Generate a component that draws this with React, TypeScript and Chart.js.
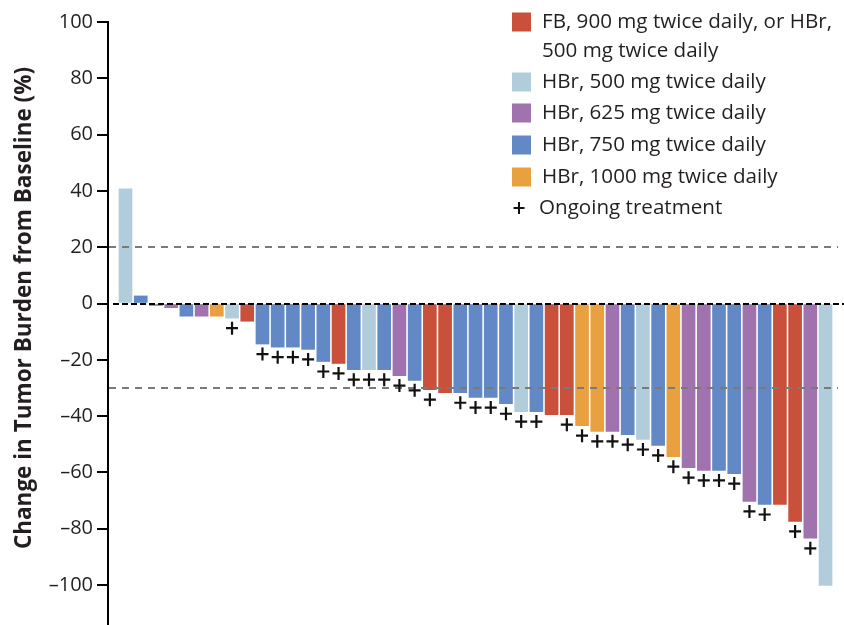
import { useEffect, useRef } from "react";
import { Chart, registerables } from "chart.js";

Chart.register(...registerables);

// Change in tumor burden from baseline (%) per patient, sorted
const values = [
  40.7, 2.7, -0.7, -1.5, -4.5, -4.5, -4.5, -5.2, -6.3, -14.4, -15.5, -15.5, -16.3, -20.6, -21.3, -23.5,
  -23.5, -23.5, -25.6, -27.3, -30.6, -31.7, -31.7, -33.4, -33.4, -35.6, -38.4, -38.4, -39.5, -39.5,
  -43.4, -45.4, -45.4, -46.6, -48.3, -50.4, -54.4, -58.3, -59.3, -59.3, -60.4, -70.3, -71.4, -71.4,
  -77.4, -83.4, -100.1,
];

// dose group index per patient (see groupNames)
const groups = [
  1, 3, 2, 2, 3, 2, 4, 1, 0, 3, 3, 3, 3, 3, 0, 3, 1, 3, 2, 3, 0, 0, 3, 3, 3, 3, 1, 3, 0, 0, 4, 4, 2, 3,
  1, 3, 4, 2, 2, 3, 3, 2, 3, 0, 0, 2, 1,
];

// ongoing treatment flag per patient
const ongoing = [
  0, 0, 0, 0, 0, 0, 0, 1, 0, 1, 1, 1, 1, 1, 1, 1, 1, 1, 1, 1, 1, 0, 1, 1, 1, 1, 1, 1, 0, 1, 1, 1, 1, 1,
  1, 1, 1, 1, 1, 1, 1, 1, 1, 0, 1, 1, 0,
];

const groupNames = [
  ["FB, 900 mg twice daily, or HBr,", "500 mg twice daily"],
  ["HBr, 500 mg twice daily"],
  ["HBr, 625 mg twice daily"],
  ["HBr, 750 mg twice daily"],
  ["HBr, 1000 mg twice daily"],
];
const groupColors = ["#C9503B", "#B1CDDB", "#A072AE", "#6289C5", "#E9A03E"];
const ongoingLabel = "Ongoing treatment";

const yTicks = [100, 80, 60, 40, 20, 0, -20, -40, -60, -80, -100];
const refLines = [20, -30];
const yTitle = "Change in Tumor Burden from Baseline (%)";

const FONT = "'Open Sans', 'DejaVu Sans', sans-serif";
const TEXT = "#231f20";

const overlayPlugin = {
  id: "overlay",
  afterDatasetsDraw(chart: any) {
    const { ctx, chartArea } = chart;
    const y = chart.scales.y;
    ctx.save();
    // grey reference lines
    ctx.strokeStyle = "#7a7a7a";
    ctx.lineWidth = 2;
    ctx.setLineDash([7, 6]);
    refLines.forEach((v) => {
      const py = Math.round(y.getPixelForValue(v));
      ctx.beginPath();
      ctx.moveTo(chartArea.left + 1, py);
      ctx.lineTo(chartArea.right - 2, py);
      ctx.stroke();
    });
    // zero line
    ctx.strokeStyle = "#000";
    ctx.setLineDash([6, 3]);
    const pz = Math.round(y.getPixelForValue(0));
    ctx.beginPath();
    ctx.moveTo(chartArea.left + 5, pz);
    ctx.lineTo(chart.width, pz);
    ctx.stroke();
    ctx.setLineDash([]);
    // ongoing markers
    const meta = chart.getDatasetMeta(0);
    ctx.strokeStyle = "#111";
    ctx.lineWidth = 2.2;
    meta.data.forEach((bar: any, i: number) => {
      if (!ongoing[i]) return;
      const cx = bar.x;
      const cy = bar.y + 10;
      ctx.beginPath();
      ctx.moveTo(cx - 6, cy);
      ctx.lineTo(cx + 6, cy);
      ctx.moveTo(cx, cy - 6.5);
      ctx.lineTo(cx, cy + 6.5);
      ctx.stroke();
    });
    ctx.restore();
  },
  afterDraw(chart: any) {
    const { ctx } = chart;
    ctx.save();
    // y title
    ctx.translate(25, 308);
    ctx.rotate(-Math.PI / 2);
    ctx.font = `bold 22.5px ${FONT}`;
    ctx.fillStyle = TEXT;
    ctx.textAlign = "center";
    ctx.textBaseline = "middle";
    ctx.fillText(yTitle, 0, 0);
    ctx.restore();

    // legend
    ctx.save();
    ctx.font = `20.6px ${FONT}`;
    ctx.textAlign = "left";
    ctx.textBaseline = "middle";
    const rowCenters = [22, 82, 113, 145, 177];
    groupNames.forEach((lines, g) => {
      const cy = rowCenters[g];
      ctx.fillStyle = groupColors[g];
      ctx.fillRect(512, cy - 9.5, 19, 19);
      ctx.fillStyle = TEXT;
      lines.forEach((t, k) => ctx.fillText(t, 542, cy + k * 29));
    });
    ctx.strokeStyle = "#111";
    ctx.lineWidth = 2;
    ctx.beginPath();
    ctx.moveTo(513.5, 208);
    ctx.lineTo(524.5, 208);
    ctx.moveTo(519, 202);
    ctx.lineTo(519, 214);
    ctx.stroke();
    ctx.fillStyle = TEXT;
    ctx.fillText(ongoingLabel, 539, 208);
    ctx.restore();
  },
};

export default function App() {
  const ref = useRef<HTMLCanvasElement>(null);
  useEffect(() => {
    if (!ref.current) return;
    const chart = new Chart(ref.current, {
      type: "bar",
      data: {
        datasets: [
          {
            data: values.map((v, i) => ({ x: i, y: v })),
            backgroundColor: groups.map((g) => groupColors[g]),
            barThickness: 13,
            borderWidth: 0,
          },
        ],
      },
      options: {
        animation: false,
        responsive: false,
        devicePixelRatio: 1,
        layout: { padding: { top: 22, right: 4, bottom: 0, left: 0 } },
        plugins: { legend: { display: false }, tooltip: { enabled: false } },
        scales: {
          x: { type: "linear", min: -1.15, max: 46.95, display: false, offset: false, grid: { offset: false } },
          y: {
            min: -114.2,
            max: 100,
            afterBuildTicks: (axis: any) => {
              axis.ticks = yTicks.map((v) => ({ value: v }));
            },
            afterFit: (axis: any) => {
              axis.width = 108;
              axis.paddingTop = 0;
              axis.paddingBottom = 0;
            },
            border: { display: true, color: "#000", width: 2 },
            grid: { drawOnChartArea: false, drawTicks: true, tickLength: 11, color: "#000", lineWidth: 2 },
            ticks: {
              padding: 4,
              color: TEXT,
              font: { family: FONT, size: 20 },
              callback: (v: any) => (v < 0 ? "\u2013" + Math.abs(v) : String(v)),
            },
          },
        },
      },
      plugins: [overlayPlugin],
    } as any);
    return () => chart.destroy();
  }, []);
  return (
    <div style={{ position: "absolute", left: 0, top: 0, width: 844, height: 625, background: "#fff" }}>
      <canvas ref={ref} width={844} height={625} style={{ display: "block" }} />
    </div>
  );
}
